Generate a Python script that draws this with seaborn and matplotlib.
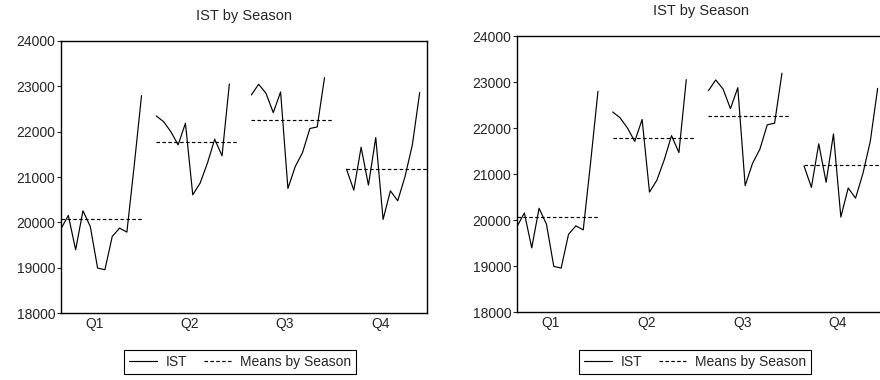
import numpy as np
import pandas as pd
import matplotlib
matplotlib.use('Agg')
import matplotlib.pyplot as plt
import seaborn as sns

seasons = ['Q1', 'Q2', 'Q3', 'Q4']
ist_q1 = [19858, 20152, 19395, 20255, 19909, 18991, 18955, 19689, 19873, 19785, 21250, 22796]
ist_q2 = [22348, 22223, 22002, 21709, 22186, 20607, 20864, 21305, 21834, 21466, 23053]
ist_q3 = [22810, 23045, 22847, 22421, 22876, 20747, 21231, 21540, 22069, 22105, 23192]
ist_q4 = [21173, 20710, 21657, 20820, 21870, 20064, 20695, 20475, 21011, 21709, 22862]
yticks = [18000, 19000, 20000, 21000, 22000, 23000, 24000]

block = 12  # slots per season panel
gap = 1

rows = []
mean_rows = []
for i, (s, vals) in enumerate(zip(seasons, [ist_q1, ist_q2, ist_q3, ist_q4])):
    start = i * (block + gap)
    for j, v in enumerate(vals):
        rows.append({'season': s, 'pos': start + j, 'IST': v})
    m = np.mean(vals)
    mean_rows.append({'season': s, 'pos': start, 'mean': m})
    mean_rows.append({'season': s, 'pos': start + block - 1, 'mean': m})
df = pd.DataFrame(rows)
df_mean = pd.DataFrame(mean_rows)
tick_pos = [i * (block + gap) + 4.6 for i in range(4)]

sns.set_theme(style='white')
plt.rcParams['font.family'] = ['Liberation Sans', 'DejaVu Sans']

fig = plt.figure(figsize=(8.8, 3.8), dpi=100)
ax1 = fig.add_axes([61/880, 1-313/380, 366/880, 272/380])
ax2 = fig.add_axes([517/880, 1-312/380, 368/880, 276/380])

for ax, leg_x in [(ax1, 240/880), (ax2, 695/880)]:
    sns.lineplot(data=df, x='pos', y='IST', units='season', estimator=None,
                 color='black', lw=0.85, ax=ax, label='IST')
    sns.lineplot(data=df_mean, x='pos', y='mean', units='season', estimator=None,
                 color='black', lw=0.85, ls=(0, (3, 2)), ax=ax, label='Means by Season')
    ax.set_xlim(0, 50)
    ax.set_ylim(18000, 24000)
    ax.set_yticks(yticks)
    ax.set_xticks(tick_pos)
    ax.set_xticklabels(seasons)
    ax.set_xlabel('')
    ax.set_ylabel('')
    ax.tick_params(axis='y', length=3, width=0.8, direction='out', labelsize=10, pad=1, left=True)
    ax.tick_params(axis='x', length=0, labelsize=10, pad=3)
    for sp in ax.spines.values():
        sp.set_color('black')
        sp.set_linewidth(1.0)
    ax.set_title('IST by Season', fontsize=10.5, pad=15)
    # keep one legend entry per series
    h, l = ax.get_legend_handles_labels()
    seen = {}
    for hh, ll in zip(h, l):
        seen.setdefault(ll, hh)
    leg = ax.legend(list(seen.values()), list(seen.keys()), loc='center',
                    bbox_to_anchor=(leg_x, 1-362/380), bbox_transform=fig.transFigure,
                    ncol=2, frameon=True, fancybox=False, edgecolor='black', fontsize=10,
                    handlelength=2.0, columnspacing=1.2, handletextpad=0.6, borderpad=0.35,
                    framealpha=1)
    leg.get_frame().set_linewidth(0.8)

fig.savefig('out.png', dpi=100)
